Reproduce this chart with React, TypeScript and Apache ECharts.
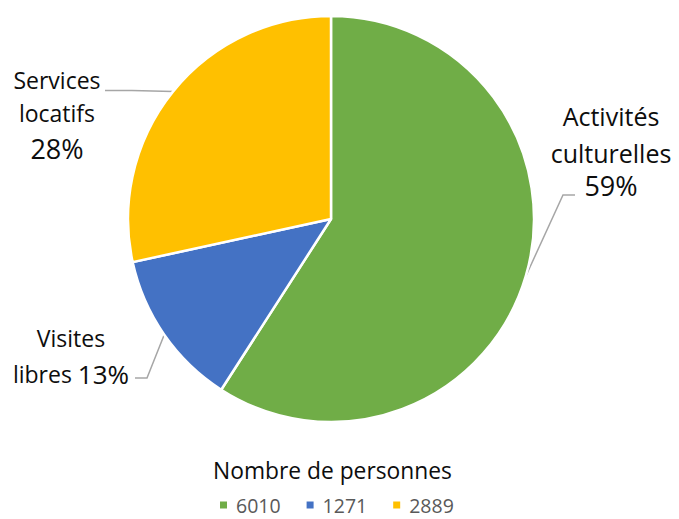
import React, { useEffect, useRef } from "react";
import * as echarts from "echarts";

const categories = ["Activités culturelles", "Visites libres", "Services locatifs"];
const labelLines = [["Activités", "culturelles"], ["Visites", "libres"], ["Services", "locatifs"]];
const values = [6010, 1271, 2889];
const legendNames = ["6010", "1271", "2889"];
const colors = ["#70AD47", "#4472C4", "#FFC000"];
const legendTitle = "Nombre de personnes";

const FONT = "Open Sans";

// label placement (top-centre of each label block) and leader-line bends
const labelPlace = [
  { x: 611, y: 97.5, bend: [-48, 97.5], end: [-36, 97.5] },
  { x: 71, y: 320, bend: [76, 58], end: [64, 58] },
  { x: 57, y: 63.5, bend: [75, 23], end: [48, 23] },
];

const TXT = "#0d0d0d";

export default function App() {
  const ref = useRef<HTMLDivElement>(null);
  useEffect(() => {
    if (!ref.current) return;
    const chart = echarts.init(ref.current, undefined, { renderer: "svg" });
    const data = values.map((v, i) => ({
      name: legendNames[i],
      value: v,
      itemStyle: { color: colors[i] },
    }));
    chart.setOption({
      animation: false,
      backgroundColor: "#ffffff",
      title: {
        text: legendTitle,
        left: 208,
        top: 454,
        padding: 5,
        textStyle: { fontFamily: FONT, fontSize: 22.8, fontWeight: "normal", color: TXT },
      },
      legend: {
        data: legendNames,
        top: 490,
        left: 213,
        padding: 5,
        icon: "rect",
        itemWidth: 9,
        itemHeight: 9,
        itemGap: 24,
        textStyle: { fontFamily: FONT, fontSize: 19.5, color: "#595959", padding: [0, 0, 0, 3] },
        selectedMode: false,
      },
      series: [
        {
          type: "pie",
          center: [331, 219],
          radius: 203,
          startAngle: 90,
          clockwise: true,
          percentPrecision: 0,
          avoidLabelOverlap: false,
          data,
          itemStyle: { borderColor: "#ffffff", borderWidth: 2.5 },
          label: {
            show: true,
            position: "outside",
            formatter: (p: any) => {
              const parts = labelLines[p.dataIndex];
              const i = p.dataIndex;
              if (i === 1) {
                return `{n${i}|${parts[0]}}\n{n${i}|${parts[1]} }{p${i}|${p.percent}%}`;
              }
              return `{n${i}|${parts[0]}}\n{n${i}|${parts[1]}}\n{p${i}|${p.percent}%}`;
            },
            rich: {
              n0: { fontFamily: FONT, fontSize: 25, lineHeight: 37, color: TXT, align: "center" },
              p0: { fontFamily: FONT, fontSize: 27, lineHeight: 28, color: TXT, align: "center" },
              n1: { fontFamily: FONT, fontSize: 23, lineHeight: 36, color: TXT, align: "center" },
              p1: { fontFamily: FONT, fontSize: 26, lineHeight: 36, color: TXT, align: "center" },
              n2: { fontFamily: FONT, fontSize: 23, lineHeight: 33, color: TXT, align: "center" },
              p2: { fontFamily: FONT, fontSize: 27, lineHeight: 38, color: TXT, align: "center" },
            },
          },
          labelLine: {
            show: true,
            length: 10,
            length2: 10,
            lineStyle: { color: "#A6A6A6", width: 1.5 },
          },
          labelLayout: (params: any) => {
            const pl = labelPlace[params.dataIndex];
            const out: any = { x: pl.x, y: pl.y, align: "center", verticalAlign: "top" };
            const pts = params.labelLinePoints;
            if (pts && pts[0]) {
              const p0 = pts[0];
              if (params.dataIndex === 2) {
                out.labelLinePoints = [p0, [pl.x + pl.bend[0], p0[1] - 1], [pl.x + pl.end[0], p0[1] - 1]];
              } else {
                out.labelLinePoints = [
                  p0,
                  [pl.x + pl.bend[0], pl.y + pl.bend[1]],
                  [pl.x + pl.end[0], pl.y + pl.end[1]],
                ];
              }
            }
            return out;
          },
        },
      ],
    });
    return () => chart.dispose();
  }, []);
  return (
    <div
      ref={ref}
      style={{ position: "fixed", left: 0, top: 0, width: 679, height: 519 }}
    />
  );
}
